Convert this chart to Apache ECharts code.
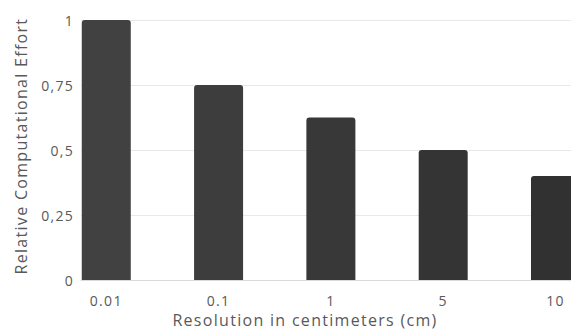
<!DOCTYPE html>
<html>
<head>
<meta charset="utf-8">
<script src="https://cdn.jsdelivr.net/npm/echarts@6/dist/echarts.min.js"></script>
<style>
html,body{margin:0;padding:0;background:#fff;}
#chart{width:571px;height:333px;}
#chart text{letter-spacing:1.3px;}
</style>
</head>
<body>
<div id="chart"></div>
<script>
var categories = ['0.01', '0.1', '1', '5', '10'];
var values = [1, 0.75, 0.625, 0.5, 0.4];
var yTicks = [0, 0.25, 0.5, 0.75, 1];
var barColors = ['#414141', '#3d3d3d', '#383838', '#343434', '#313131'];

var chart = echarts.init(document.getElementById('chart'), null, { renderer: 'svg' });
var font = '"Open Sans", "Noto Sans", sans-serif';
var txt = '#595959';

chart.setOption({
  animation: false,
  backgroundColor: '#ffffff',
  grid: { left: 81, right: 0, top: 20, bottom: 52, containLabel: false },
  xAxis: {
    type: 'value',
    min: -0.225,
    max: 4.138,
    name: 'Resolution in centimeters (cm)',
    nameLocation: 'middle',
    nameGap: 31,
    nameTextStyle: { color: txt, fontSize: 16, fontFamily: font, padding: [0, 42, 0, 0] },
    axisLine: { show: true, onZero: false, lineStyle: { color: '#d9d9d9', width: 1 } },
    axisTick: { show: false },
    splitLine: { show: false },
    axisLabel: {
      customValues: categories.map(function (c, i) { return i; }),
      formatter: function (v) { return categories[Math.round(v)]; },
      color: txt, fontSize: 14, fontFamily: font, margin: 13
    }
  },
  yAxis: {
    type: 'value',
    min: 0,
    max: 1,
    interval: 0.25,
    name: 'Relative Computational Effort',
    nameLocation: 'middle',
    nameGap: 52,
    nameTextStyle: { color: txt, fontSize: 16, fontFamily: font, padding: [0, 0, 0, 8] },
    axisLine: { show: false },
    axisTick: { show: false },
    splitLine: { show: true, lineStyle: { color: '#e8e8e8', width: 1 } },
    axisLabel: {
      customValues: yTicks,
      formatter: function (v) { return String(v).replace('.', ','); },
      color: txt, fontSize: 14, fontFamily: font, margin: 7
    }
  },
  series: [{
    type: 'bar',
    barWidth: 49,
    data: values.map(function (v, i) { return [i, v]; }),
    itemStyle: {
      color: function (p) { return barColors[p.dataIndex]; },
      borderRadius: [3, 3, 0, 0]
    }
  }]
});
</script>
</body>
</html>
